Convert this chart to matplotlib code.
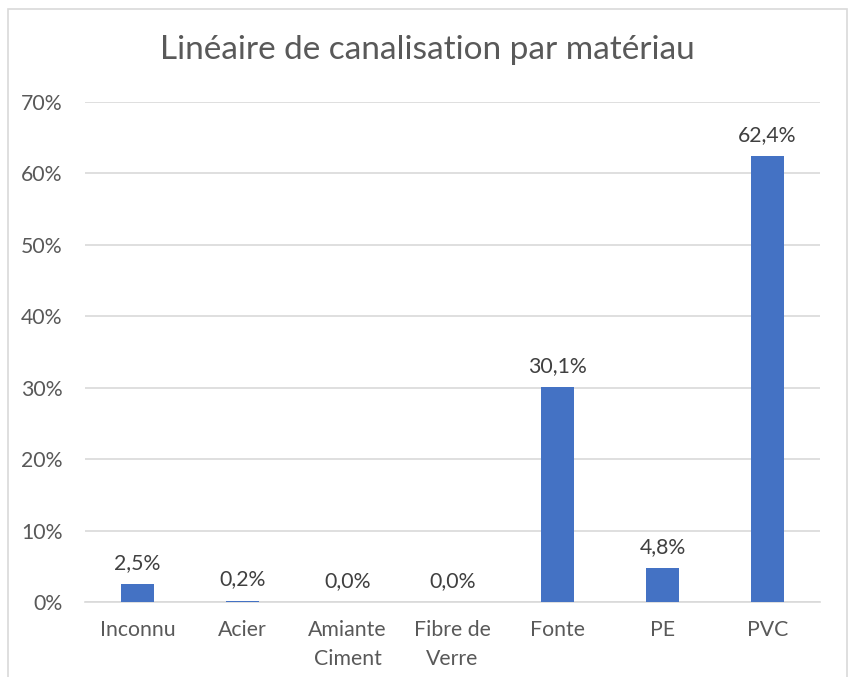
import matplotlib
matplotlib.use("Agg")
import matplotlib.pyplot as plt
from matplotlib.patches import Rectangle
from matplotlib.ticker import FuncFormatter

categories = ["Inconnu", "Acier", "Amiante\nCiment", "Fibre de\nVerre", "Fonte", "PE", "PVC"]
values = [2.5, 0.2, 0.0, 0.0, 30.1, 4.8, 62.4]
labels = ["2,5%", "0,2%", "0,0%", "0,0%", "30,1%", "4,8%", "62,4%"]
yticks = [0, 10, 20, 30, 40, 50, 60, 70]

plt.rcParams['font.family'] = ['Lato', 'DejaVu Sans']
txt = "#595959"
W, H = 854, 677
fig = plt.figure(figsize=(W/100, H/100), dpi=100)
fig.patches.append(Rectangle((8/W, -0.05), (847-8)/W, 1.05 - 9/H, transform=fig.transFigure,
                             fill=False, edgecolor="#d9d9d9", linewidth=1.2))
ax = fig.add_axes([85/W, 1-602/H, (820-85)/W, (602-102)/H])
x = range(len(categories))
ax.bar(x, values, width=0.315, color="#4472C4", zorder=3)
for xi, v, l in zip(x, values, labels):
    ax.annotate(l, (xi, v), xytext=(0, 8), textcoords="offset points", ha="center", va="bottom",
                fontsize=15.3, color="#404040")
ax.set_xlim(-0.5, len(categories)-0.5)
ax.set_ylim(0, 70)
ax.set_yticks(yticks)
ax.yaxis.set_major_formatter(FuncFormatter(lambda v, p: f"{int(v)}%"))
ax.set_xticks(list(x))
ax.set_xticklabels(categories, linespacing=1.55)
ax.tick_params(axis="both", length=0, labelsize=15.3, colors=txt)
ax.tick_params(axis="y", pad=16)
ax.tick_params(axis="x", pad=13)
ax.grid(axis="y", color="#d9d9d9", linewidth=1.2, zorder=0)
for s in ["top", "right", "left"]:
    ax.spines[s].set_visible(False)
ax.spines["bottom"].set_color("#d9d9d9")
ax.spines["bottom"].set_linewidth(1.2)
fig.text(427/W, 1-50/H, "Linéaire de canalisation par matériau", ha="center", va="center",
         fontsize=24, color=txt)
fig.savefig("out.png", dpi=100)
